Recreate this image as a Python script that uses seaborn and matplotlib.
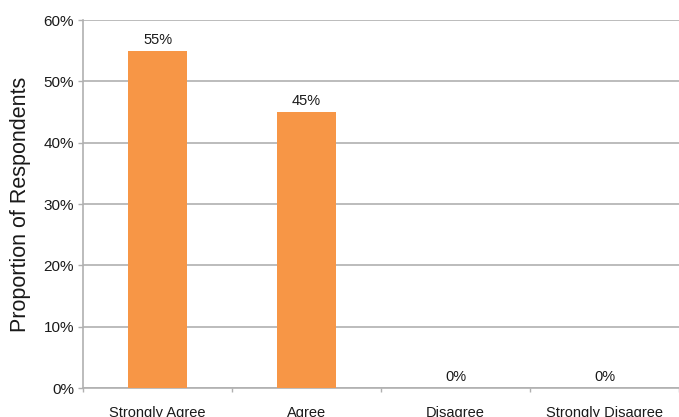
import matplotlib
matplotlib.use("Agg")
import matplotlib.pyplot as plt
import seaborn as sns
import pandas as pd

categories = ["Strongly Agree", "Agree", "Disagree", "Strongly Disagree"]
proportions = [0.55, 0.45, 0.0, 0.0]
y_ticks = [0.0, 0.1, 0.2, 0.3, 0.4, 0.5, 0.6]

sns.set_theme(style="white")
plt.rcParams["font.family"] = ["Liberation Sans", "DejaVu Sans"]

grid_color = "#b0b0b0"
text_color = "#1a1a1a"

df = pd.DataFrame({"Response": categories, "Proportion": proportions})

fig = plt.figure(figsize=(6.79, 4.17), dpi=100)
ax = fig.add_axes([0.1225, 0.0695, 0.8775, 0.8825])

sns.barplot(data=df, x="Response", y="Proportion", color="#F79646",
            saturation=1, width=0.4, linewidth=0, edgecolor="none",
            ax=ax, zorder=3)

ax.set_xlim(-0.5, len(categories) - 0.5)
ax.set_ylim(0, 0.6)
ax.set_yticks(y_ticks)
ax.set_yticklabels([f"{int(round(t * 100))}%" for t in y_ticks])
ax.yaxis.grid(True, color=grid_color, linewidth=1.2, zorder=0)
ax.xaxis.grid(False)

# category separators as small ticks beneath the baseline
ax.set_xticks([i - 0.5 for i in range(len(categories) + 1)], minor=True)
ax.tick_params(axis="x", which="minor", bottom=True, length=3, width=1,
               color=grid_color)
ax.tick_params(axis="x", which="major", bottom=False, length=0, pad=13,
               labelsize=10.5, labelcolor=text_color)
ax.tick_params(axis="y", left=True, length=3.5, width=1, color=grid_color,
               pad=3, labelsize=11, labelcolor=text_color)

for side in ["top", "right"]:
    ax.spines[side].set_visible(False)
for side in ["left", "bottom"]:
    ax.spines[side].set_color(grid_color)
    ax.spines[side].set_linewidth(1.2)

ax.set_xlabel("")
ax.set_ylabel("Proportion of Respondents", fontsize=15.5, color=text_color,
              labelpad=9)

for container in ax.containers:
    ax.bar_label(container,
                 labels=[f"{int(round(v * 100))}%" for v in proportions],
                 padding=3, fontsize=10.5, color=text_color)

fig.savefig("out.png", dpi=100)
